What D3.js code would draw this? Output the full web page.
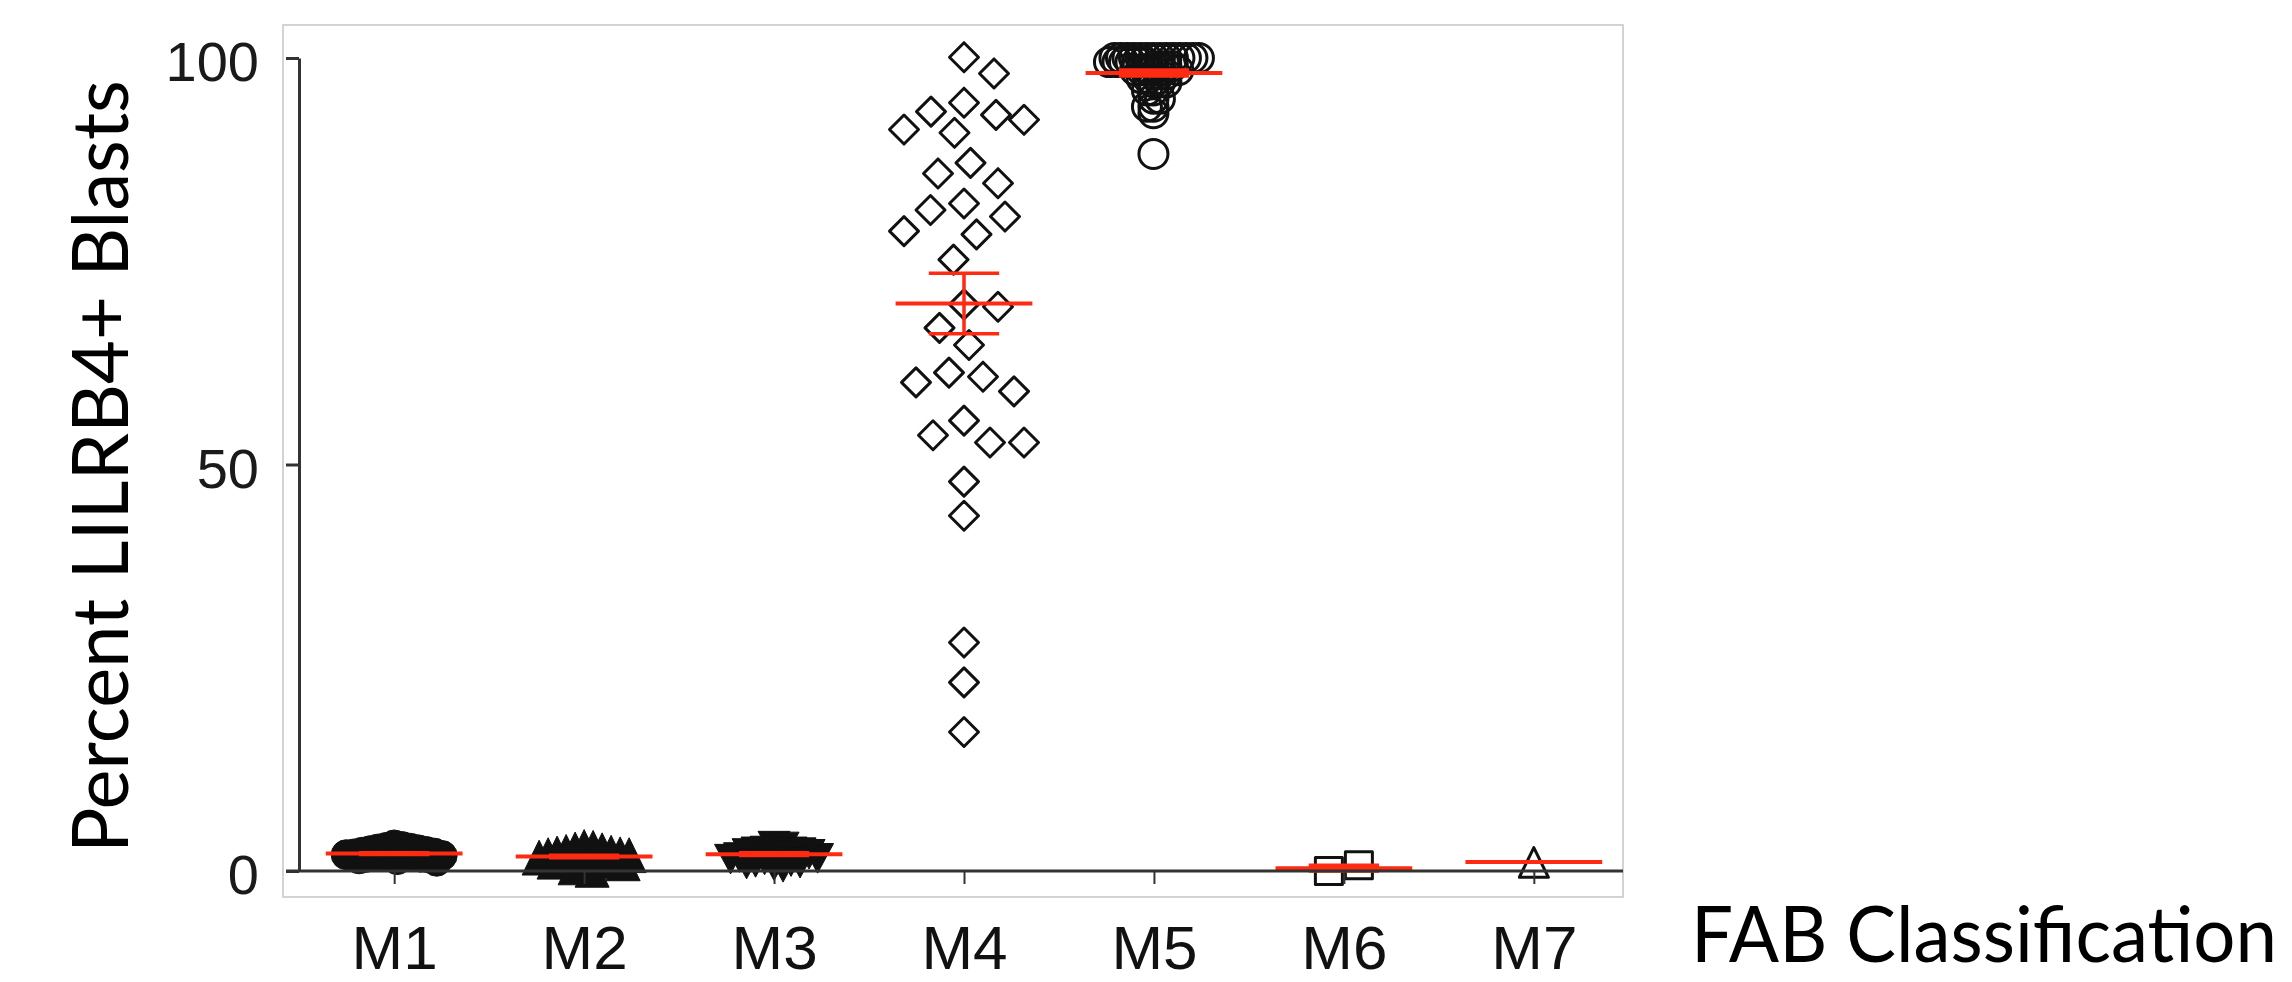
<!DOCTYPE html>
<html>
<head>
<meta charset="utf-8">
<script src="https://cdn.jsdelivr.net/npm/d3@7"></script>
<style>
  html, body { margin: 0; padding: 0; background: #fff; }
  svg { display: block; }
</style>
</head>
<body>
<svg id="chart" width="2292" height="982"></svg>
<script>
// ---------------- DATA ----------------
const categories = ["M1", "M2", "M3", "M4", "M5", "M6", "M7"];

const m1Values = [3.2, 3.0, 2.9, 2.8, 2.7, 2.6, 2.5, 2.4, 2.3, 2.2, 2.2, 2.1, 2.0, 2.0,
                  1.9, 1.9, 1.8, 1.8, 1.7, 1.7, 1.6, 1.5, 1.4, 1.2];
const m2Values = [3.0, 2.9, 2.7, 2.6, 2.4, 2.3, 2.2, 2.1, 2.0, 2.0, 1.9, 1.8, 1.7,
                  1.6, 1.5, 1.4, 1.3, 1.2, 1.0, 0.8, 0.5, 0.2];
const m3Values = [3.4, 3.3, 2.8, 2.7, 2.7, 2.6, 2.5, 2.4, 2.2, 2.1, 2.0, 1.9, 1.8,
                  1.7, 1.5, 1.4, 1.3, 1.2, 1.0, 0.8];
const m4Values = [98.1, 100.1, 93.4, 91.2, 94.5, 93.0, 92.4, 90.8, 85.8, 87.1, 84.6,
                  81.3, 80.5, 82.1, 78.7, 78.3, 75.2, 69.7, 69.4, 66.8, 64.7, 60.8,
                  59.0, 60.1, 61.3, 55.4, 52.7, 52.7, 53.6, 47.9, 43.7, 28.1, 23.2, 17.1];
const m5Values = [100, 100, 100, 100, 100, 100, 100, 100, 100, 100, 100, 100, 100, 100,
                  99.5, 99.5, 99.5, 99.5, 99.5, 99.5, 99, 99, 99, 99,
                  98.5, 98.5, 98.5, 98.5, 98, 98, 98, 97.5, 97.5, 97, 97, 97,
                  96, 96, 95, 95, 94, 94, 93.2, 88.2];
const m6Values = [0.0, 0.7];
const m7Values = [1.1];

const seriesValues = [m1Values, m2Values, m3Values, m4Values, m5Values, m6Values, m7Values];
const yTickValues = [0, 50, 100];
const yAxisTitle = "Percent LILRB4+ Blasts";
const xAxisTitle = "FAB Classification";

// ---------------- LAYOUT / STYLE ----------------
const frame = { left: 283, top: 25, right: 1623, bottom: 897 };
const axisX = 299;
const plotTop = 58, plotBottom = 871;

const markerStyle = [
  { shape: "circle",   filled: true,  r: 15, minDist: 8,   maxHalf: 48 },
  { shape: "triUp",    filled: true,  r: 17, minDist: 9,   maxHalf: 50 },
  { shape: "triDown",  filled: true,  r: 16, minDist: 9,   maxHalf: 47 },
  { shape: "diamond",  filled: false, r: 16, minDist: 34,  maxHalf: 60 },
  { shape: "circle",   filled: false, r: 16, minDist: 6.5, maxHalf: 48 },
  { shape: "square",   filled: false, r: 15, minDist: 46,  maxHalf: 30 },
  { shape: "triUp",    filled: false, r: 16, minDist: 30,  maxHalf: 30 }
];

const RED = "#ff2a12";
const INK = "#111";

const svg = d3.select("#chart");

const y = d3.scaleLinear().domain([0, 100]).range([plotBottom, plotTop]);
const x = d3.scalePoint().domain(categories).range([303, 1625]).padding(0.48);

// frame
svg.append("rect")
  .attr("x", frame.left).attr("y", frame.top)
  .attr("width", frame.right - frame.left).attr("height", frame.bottom - frame.top)
  .attr("fill", "none").attr("stroke", "#c9c9c9").attr("stroke-width", 1.6);

function symbolPath(shape, r) {
  switch (shape) {
    case "circle":
      return d3.symbol(d3.symbolCircle, Math.PI * r * r)();
    case "square":
      return `M${-r},${-r}H${r}V${r}H${-r}Z`;
    case "diamond":
      return `M0,${-r}L${r},0L0,${r}L${-r},0Z`;
    case "triUp":
      return `M0,${-r}L${r},${r * 1.05}L${-r},${r * 1.05}Z`;
    case "triDown":
      return `M${-r},${-r * 0.75}L${r},${-r * 0.75}L0,${r * 1.1}Z`;
  }
}

// greedy beeswarm: offsets computed from values
function swarm(values, minDist, maxHalf) {
  const pts = values.map((v, i) => ({ v, i, py: y(v) })).sort((a, b) => b.v - a.v);
  const placed = [];
  let side = 1;
  for (const p of pts) {
    let found = null;
    for (let k = 0; k <= maxHalf && found === null; k += 0.5) {
      const cands = k === 0 ? [0] : [side * k, -side * k];
      for (const dx of cands) {
        if (placed.every(q => Math.hypot(q.dx - dx, q.py - p.py) >= minDist)) { found = dx; break; }
      }
    }
    if (found === null) {
      let bestScore = -1;
      for (let dx = -maxHalf; dx <= maxHalf; dx += 0.5) {
        const sc = d3.min(placed, q => Math.hypot(q.dx - dx, q.py - p.py));
        if (sc > bestScore) { bestScore = sc; found = dx; }
      }
    }
    p.dx = found;
    placed.push(p);
    if (found !== 0) side = found > 0 ? -1 : 1;
  }
  const shift = (d3.min(pts, d => d.dx) + d3.max(pts, d => d.dx)) / 2;
  pts.forEach(d => { d.dx -= shift; });
  return pts;
}

// points
const gPts = svg.append("g");
categories.forEach((cat, ci) => {
  const st = markerStyle[ci];
  const pts = swarm(seriesValues[ci], st.minDist, st.maxHalf);
  gPts.append("g").selectAll("path")
    .data(pts)
    .join("path")
    .attr("d", symbolPath(st.shape, st.filled ? st.r : st.r - 1.5))
    .attr("transform", d => `translate(${x(cat) + d.dx},${d.py})`)
    .attr("fill", st.filled ? INK : "none")
    .attr("stroke", INK)
    .attr("stroke-width", st.filled ? 1 : 3)
    .attr("stroke-linejoin", "round");
});

// mean + SEM (red)
const gStats = svg.append("g").attr("stroke", RED).attr("fill", "none");
categories.forEach((cat, ci) => {
  const vals = seriesValues[ci];
  const m = d3.mean(vals);
  const cx = x(cat);
  const halfMean = x.step() * 0.36;
  const halfCap = x.step() * 0.185;
  if (vals.length > 1) {
    const sem = d3.deviation(vals) / Math.sqrt(vals.length);
    gStats.append("line").attr("x1", cx).attr("x2", cx)
      .attr("y1", y(m - sem)).attr("y2", y(m + sem)).attr("stroke-width", 3.5);
    [m - sem, m + sem].forEach(v => {
      gStats.append("line").attr("x1", cx - halfCap).attr("x2", cx + halfCap)
        .attr("y1", y(v)).attr("y2", y(v)).attr("stroke-width", 3.5);
    });
  }
  gStats.append("line").attr("x1", cx - halfMean).attr("x2", cx + halfMean)
    .attr("y1", y(m)).attr("y2", y(m)).attr("stroke-width", 4);
});

// y axis
const yAxis = svg.append("g")
  .attr("transform", `translate(${axisX},0)`)
  .call(d3.axisLeft(y).tickValues(yTickValues).tickSize(13).tickSizeOuter(0).tickPadding(27));
yAxis.select(".domain").attr("stroke", "#333").attr("stroke-width", 3);
yAxis.selectAll(".tick line").attr("stroke", "#333").attr("stroke-width", 3);
yAxis.selectAll(".tick text")
  .attr("font-family", "'Liberation Sans', Arial, sans-serif")
  .attr("font-size", 56).attr("fill", "#1a1a1a").attr("dy", "0.41em");

// x axis
const xAxis = svg.append("g")
  .attr("transform", `translate(0,${plotBottom})`)
  .call(d3.axisBottom(x).tickSize(13).tickSizeOuter(0).tickPadding(41));
xAxis.select(".domain").remove();
xAxis.selectAll(".tick line").attr("stroke", "#333").attr("stroke-width", 2);
xAxis.selectAll(".tick text")
  .attr("font-family", "'Liberation Sans', Arial, sans-serif")
  .attr("font-size", 62).attr("fill", "#111");
xAxis.append("line")
  .attr("x1", axisX - 13).attr("x2", frame.right)
  .attr("y1", 0).attr("y2", 0)
  .attr("stroke", "#333").attr("stroke-width", 3);

// axis titles (fitted to target widths with a horizontal scale)
function fitText(sel, targetLen) {
  const natural = sel.node().getComputedTextLength();
  return natural > 0 ? targetLen / natural : 1;
}

const yTitle = svg.append("text")
  .attr("text-anchor", "middle")
  .attr("font-family", "Lato, 'Open Sans', sans-serif")
  .attr("font-size", 78).attr("fill", "#000")
  .text(yAxisTitle);
const ys = fitText(yTitle, 773);
yTitle.attr("transform", `translate(128,${(80 + 853) / 2}) rotate(-90) scale(${ys},1)`);

const xTitle = svg.append("text")
  .attr("text-anchor", "start")
  .attr("font-family", "Lato, 'Open Sans', sans-serif")
  .attr("font-size", 78).attr("fill", "#000")
  .text(xAxisTitle);
const xs = fitText(xTitle, 586);
xTitle.attr("transform", `translate(1691,962) scale(${xs},1)`);
</script>
</body>
</html>
